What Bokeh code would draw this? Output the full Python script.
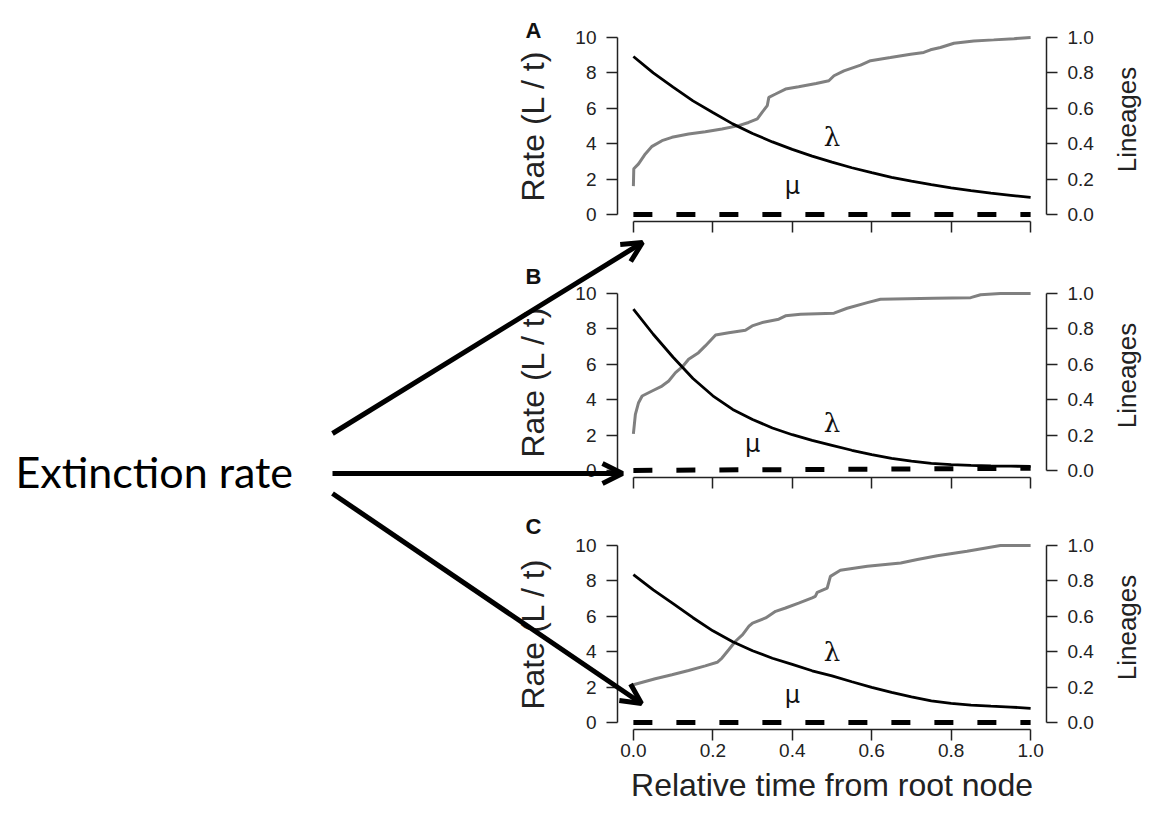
from bokeh.plotting import figure
from bokeh.models import (Range1d, LinearAxis, Label, Arrow, OpenHead, FixedTicker,
                          PrintfTickFormatter, CustomJSTickFormatter, GridBox, ColumnDataSource)
from bokeh.embed import file_html
from bokeh.resources import INLINE
import math

# ---------------- data ----------------
time = [0.0, 0.05, 0.1, 0.15, 0.2, 0.25, 0.3, 0.35, 0.4, 0.45, 0.5,
        0.55, 0.6, 0.65, 0.7, 0.75, 0.8, 0.85, 0.9, 0.95, 1.0]

lambda_A = [8.93, 8.0, 7.2, 6.42, 5.76, 5.12, 4.58, 4.1, 3.68, 3.3, 2.96,
            2.64, 2.36, 2.1, 1.88, 1.68, 1.5, 1.34, 1.2, 1.08, 0.96]
lambda_B = [9.12, 7.7, 6.4, 5.2, 4.22, 3.45, 2.88, 2.4, 2.02, 1.7, 1.42,
            1.14, 0.9, 0.68, 0.52, 0.4, 0.33, 0.28, 0.25, 0.24, 0.23]
lambda_C = [8.36, 7.5, 6.72, 5.92, 5.18, 4.56, 4.05, 3.63, 3.28, 2.92, 2.63,
            2.3, 1.98, 1.7, 1.45, 1.22, 1.08, 0.98, 0.92, 0.87, 0.8]

mu_time = [0.0, 1.0]
mu_A = [0.0, 0.0]
mu_B = [0.0, 0.12]
mu_C = [0.0, 0.0]

lineage_A_t = [0, 0.001, 0.013, 0.03, 0.047, 0.072, 0.097, 0.139, 0.181, 0.223, 0.265,
               0.29, 0.312, 0.324, 0.337, 0.341, 0.358, 0.383, 0.416, 0.46, 0.492, 0.505,
               0.53, 0.572, 0.597, 0.647, 0.698, 0.731, 0.748, 0.773, 0.807, 0.857, 0.907,
               0.958, 1.0]
lineage_A = [0.16, 0.258, 0.286, 0.342, 0.385, 0.417, 0.436, 0.455, 0.468, 0.483, 0.502,
             0.52, 0.54, 0.577, 0.615, 0.662, 0.681, 0.709, 0.722, 0.74, 0.756, 0.784,
             0.812, 0.844, 0.869, 0.887, 0.906, 0.916, 0.931, 0.944, 0.968, 0.981, 0.987,
             0.994, 1.0]

lineage_B_t = [0, 0.005, 0.013, 0.022, 0.047, 0.072, 0.089, 0.106, 0.123, 0.139, 0.164,
               0.181, 0.207, 0.24, 0.282, 0.299, 0.324, 0.366, 0.383, 0.421, 0.505, 0.538,
               0.589, 0.622, 0.756, 0.849, 0.874, 0.924, 1.0]
lineage_B = [0.207, 0.317, 0.383, 0.421, 0.449, 0.477, 0.506, 0.553, 0.585, 0.629, 0.666,
             0.704, 0.766, 0.779, 0.793, 0.817, 0.836, 0.855, 0.874, 0.883, 0.889, 0.917,
             0.949, 0.968, 0.974, 0.977, 0.993, 1.0, 1.0]

lineage_C_t = [0, 0.055, 0.097, 0.139, 0.181, 0.211, 0.223, 0.24, 0.257, 0.275, 0.291,
               0.3, 0.333, 0.358, 0.383, 0.416, 0.45, 0.458, 0.463, 0.488, 0.496, 0.521,
               0.589, 0.673, 0.715, 0.765, 0.84, 0.924, 1.0]
lineage_C = [0.213, 0.247, 0.27, 0.294, 0.32, 0.34, 0.364, 0.411, 0.459, 0.496, 0.544,
             0.562, 0.591, 0.628, 0.647, 0.675, 0.704, 0.713, 0.736, 0.76, 0.826, 0.86,
             0.883, 0.902, 0.921, 0.943, 0.968, 1.0, 1.0]

x_ticks = [0.0, 0.2, 0.4, 0.6, 0.8, 1.0]
rate_ticks = [0, 2, 4, 6, 8, 10]
lineage_ticks = [0.0, 0.2, 0.4, 0.6, 0.8, 1.0]

panel_letters = ["A", "B", "C"]
x_title = "Relative time from root node"
left_title = "Rate (L / t)"
right_title = "Lineages"
note_text = "Extinction rate"

# overlay annotations, in page pixel coordinates
letter_x = [533, 533, 533]
letter_y = [30, 276, 526]
right_title_x = 1126
right_title_y = [119, 375, 627]
arrow_x0 = [332, 332, 332]
arrow_y0 = [433, 473, 493]
arrow_x1 = [642, 622, 641]
arrow_y1 = [242, 473, 703]

# ---------------- styling ----------------
W, H = 1153, 822
FONT = "Liberation Sans"
AX = "#222222"
GREY = "#808080"


def style_axis(ax, ticks, bounds):
    ax.ticker = FixedTicker(ticks=ticks, minor_ticks=[])
    ax.bounds = bounds
    ax.major_tick_out = 11
    ax.major_tick_in = 0
    ax.minor_tick_out = 0
    ax.minor_tick_in = 0
    ax.axis_line_color = AX
    ax.axis_line_width = 1.5
    ax.major_tick_line_color = AX
    ax.major_tick_line_width = 1.5
    ax.major_label_text_font = FONT
    ax.major_label_text_font_size = "19px"
    ax.major_label_text_color = AX
    ax.major_label_standoff = 10
    ax.axis_label_text_font = FONT
    ax.axis_label_text_font_size = "32px"
    ax.axis_label_text_font_style = "normal"
    ax.axis_label_text_color = AX


def make_panel(lam, mu, lt, lv, lam_xy, mu_xy, height, top, bottom, last):
    p = figure(width=W, height=height, x_range=Range1d(-0.04, 1.04),
               y_range=Range1d(-0.4, 10.4), output_backend="svg",
               toolbar_location=None, title=None,
               min_border_left=617, min_border_right=W - 1046,
               min_border_top=top, min_border_bottom=bottom)
    p.outline_line_color = None
    p.grid.visible = False
    p.background_fill_color = "white"
    p.border_fill_color = "white"
    p.extra_y_ranges = {"lin": Range1d(-0.04, 1.04)}

    style_axis(p.xaxis[0], x_ticks, (0, 1))
    if last:
        p.xaxis[0].formatter = PrintfTickFormatter(format="%.1f")
        p.xaxis[0].axis_label = x_title
        p.xaxis[0].major_label_standoff = 3
        p.xaxis[0].axis_label_standoff = 7
    else:
        p.xaxis[0].formatter = CustomJSTickFormatter(code="return '';")

    style_axis(p.yaxis[0], rate_ticks, (0, 10))
    p.yaxis[0].axis_label = left_title
    p.yaxis[0].axis_label_standoff = 21

    rax = LinearAxis(y_range_name="lin")
    style_axis(rax, lineage_ticks, (0, 1))
    rax.formatter = PrintfTickFormatter(format="%.1f")
    p.add_layout(rax, "right")

    p.line(lt, lv, y_range_name="lin", line_color=GREY, line_width=3)
    p.line(time, lam, line_color="black", line_width=2.8)
    p.line(mu_time, mu, line_color="black", line_width=5, line_dash="19 24")

    p.add_layout(Label(x=lam_xy[0], y=lam_xy[1], text="λ", text_align="center",
                       text_baseline="middle", text_font="DejaVu Serif",
                       text_font_size="26px", text_color="#111111"))
    p.add_layout(Label(x=mu_xy[0], y=mu_xy[1], text="μ", text_align="center",
                       text_baseline="middle", text_font="DejaVu Sans",
                       text_font_size="24px", text_color="#111111"))
    return p


pA = make_panel(lambda_A, mu_A, lineage_A_t, lineage_A, (0.5, 4.35), (0.4, 1.6),
                254, 30, 33, False)
pB = make_panel(lambda_B, mu_B, lineage_B_t, lineage_B, (0.5, 2.7), (0.3, 1.5),
                252, 32, 29, False)
pC = make_panel(lambda_C, mu_C, lineage_C_t, lineage_C, (0.5, 4.0), (0.4, 1.55),
                316, 32, 93, True)

# transparent overlay for the annotations, covering the whole page
ov = figure(width=W, height=H, x_range=Range1d(0, W), y_range=Range1d(H, 0),
            output_backend="svg", toolbar_location=None, title=None,
            min_border=0, min_border_left=0, min_border_right=0,
            min_border_top=0, min_border_bottom=0)
ov.axis.visible = False
ov.grid.visible = False
ov.outline_line_color = None
ov.background_fill_color = None
ov.border_fill_color = None
ov.background_fill_alpha = 0
ov.border_fill_alpha = 0

for i in range(3):
    ov.add_layout(Label(x=letter_x[i], y=letter_y[i], text=panel_letters[i],
                        text_align="center", text_baseline="middle", text_font=FONT,
                        text_font_style="bold", text_font_size="22px", text_color="#111111"))
    ov.add_layout(Label(x=right_title_x, y=right_title_y[i], text=right_title,
                        angle=math.pi / 2, text_align="center", text_baseline="middle",
                        text_font=FONT, text_font_size="26px", text_color=AX))

ov.add_layout(Label(x=15, y=471, text=note_text, text_baseline="alphabetic",
                    text_font="Lato", text_font_size="43px", text_color="black"))
arrows = ColumnDataSource(dict(x0=arrow_x0, y0=arrow_y0, x1=arrow_x1, y1=arrow_y1))
ov.add_layout(Arrow(source=arrows, x_start="x0", y_start="y0", x_end="x1", y_end="y1",
                    line_color="black", line_width=5,
                    end=OpenHead(size=20, line_width=5, line_color="black")))

# empty outer rows/columns keep the overlay's frame independent of the panels' frames
layout = GridBox(children=[(pA, 1, 1), (pB, 2, 1), (pC, 3, 1), (ov, 0, 0, 5, 3)], spacing=0)

open("out.html", "w").write(file_html(layout, INLINE))
